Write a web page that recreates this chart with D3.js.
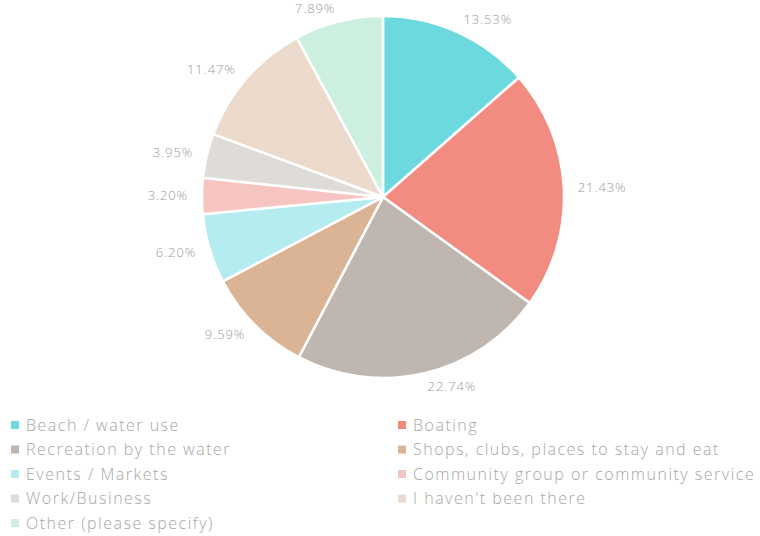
<!DOCTYPE html>
<html>
<head>
<meta charset="utf-8">
<script src="https://cdn.jsdelivr.net/npm/d3@7"></script>
<style>
  body { margin: 0; background: #fff; }
  svg { display: block; font-family: "Open Sans", Lato, sans-serif; }
  .lbl { fill: #999; font-size: 13px; font-weight: 300; letter-spacing: 0.9px; }
  .leg text { fill: #a6a6a6; font-size: 16px; font-weight: 300; letter-spacing: 1.5px; }
</style>
</head>
<body>
<svg id="chart" width="760" height="536"></svg>
<script>
let categories = [
  "Beach / water use", "Boating", "Recreation by the water",
  "Shops, clubs, places to stay and eat", "Events / Markets",
  "Community group or community service", "Work/Business",
  "I haven't been there", "Other (please specify)"
];
let values = [13.53, 21.43, 22.74, 9.59, 6.20, 3.20, 3.95, 11.47, 7.89];
let colors = ["#6cd9df", "#f28b80", "#bfb6b0", "#dbb496", "#b5ecef",
              "#f6c5c1", "#dfdbd6", "#ecdacc", "#ccefdf"];

let cx = 383, cy = 197,
    radius = 181,
    labelR = 195;

let svg = d3.select("#chart");
let color = d3.scaleOrdinal().domain(categories).range(colors);

let pie = d3.pie().sort(null).value(d => d.v);
let arcs = pie(categories.map((c, i) => ({ c: c, v: values[i] })));
let arc = d3.arc().innerRadius(0).outerRadius(radius);
let mid = d => (d.startAngle + d.endAngle) / 2;

let g = svg.append("g").attr("transform", `translate(${cx},${cy})`);

g.selectAll("path.slice")
  .data(arcs).enter()
  .append("path")
  .attr("class", "slice")
  .attr("d", arc)
  .attr("fill", d => color(d.data.c))
  .attr("stroke", "#fff")
  .attr("stroke-width", 2.5)
  .attr("stroke-linejoin", "round");

g.selectAll("text.lbl")
  .data(arcs).enter()
  .append("text")
  .attr("class", "lbl")
  .attr("x", d => Math.sin(mid(d)) * labelR)
  .attr("y", d => -Math.cos(mid(d)) * labelR)
  .attr("dy", "0.35em")
  .attr("text-anchor", d => mid(d) < Math.PI ? "start" : "end")
  .text(d => d.data.v.toFixed(2) + "%");

// legend, two columns
let leg = svg.append("g").attr("class", "leg");
let item = leg.selectAll("g")
  .data(categories).enter()
  .append("g")
  .attr("transform", (d, i) => `translate(${i % 2 ? 398 : 11},${425 + Math.floor(i / 2) * 24.5})`);

item.append("rect")
  .attr("y", -4)
  .attr("width", 8)
  .attr("height", 8)
  .attr("fill", d => color(d));

item.append("text")
  .attr("x", 15)
  .attr("dy", "0.35em")
  .text(d => d);
</script>
</body>
</html>
